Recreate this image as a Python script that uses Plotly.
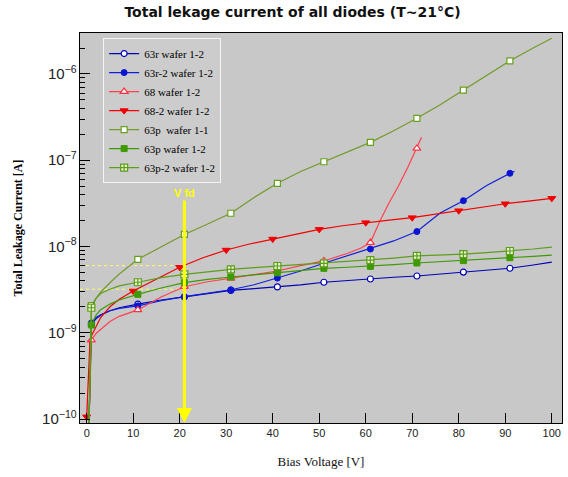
import plotly.graph_objects as go

# ---------------- data ----------------
V_63R = [0.5, 1, 2, 3, 5, 7, 11, 16, 21, 26, 31, 36, 41, 46, 51, 56, 61, 66, 71, 76, 81, 86, 91, 96, 100]
I_63R = [9e-11, 1.25e-9, 1.45e-9, 1.6e-9, 1.8e-9, 1.95e-9, 2.15e-9, 2.4e-9, 2.6e-9, 2.85e-9, 3.1e-9,
         3.25e-9, 3.4e-9, 3.6e-9, 3.85e-9, 4.05e-9, 4.2e-9, 4.4e-9, 4.55e-9, 4.8e-9, 5.05e-9, 5.35e-9,
         5.6e-9, 6.1e-9, 6.6e-9]
M_63R = [1, 11, 21, 31, 41, 51, 61, 71, 81, 91]

V_63R2 = [0.5, 1, 2, 3, 5, 7, 11, 16, 21, 26, 31, 36, 41, 46, 51, 56, 61, 66, 71, 76, 81, 86, 91, 92]
I_63R2 = [9e-11, 1.3e-9, 1.5e-9, 1.62e-9, 1.8e-9, 1.92e-9, 2.05e-9, 2.35e-9, 2.62e-9, 2.85e-9, 3.15e-9,
          3.6e-9, 4.3e-9, 5.2e-9, 6.4e-9, 7.8e-9, 9.35e-9, 1.16e-8, 1.49e-8, 2.45e-8, 3.4e-8, 5.1e-8,
          7.06e-8, 7.45e-8]
M_63R2 = [1, 11, 21, 31, 41, 51, 61, 71, 81, 91]

V_68 = [0.5, 1, 2, 3, 5, 7, 11, 16, 21, 26, 31, 36, 41, 46, 51, 56, 59, 61, 63, 65, 67, 69, 71, 72]
I_68 = [9e-11, 8.2e-10, 9.8e-10, 1.1e-9, 1.35e-9, 1.55e-9, 1.84e-9, 2.6e-9, 3.42e-9, 3.9e-9, 4.27e-9,
        4.7e-9, 5.2e-9, 6.0e-9, 6.8e-9, 8.3e-9, 9.6e-9, 1.11e-8, 1.95e-8, 3.2e-8, 5.0e-8, 8.2e-8,
        1.37e-7, 1.85e-7]
M_68 = [1, 11, 21, 31, 41, 51, 61, 71]

V_682 = [0, 0.7, 1, 2, 3, 5, 7, 10, 15, 20, 25, 30, 35, 40, 45, 50, 55, 60, 65, 70, 75, 80, 85, 90, 95, 100]
I_682 = [1.06e-10, 8.0e-10, 9.2e-10, 1.2e-9, 1.5e-9, 2.0e-9, 2.45e-9, 3.05e-9, 4.2e-9, 5.74e-9, 7.4e-9,
         9.1e-9, 1.07e-8, 1.22e-8, 1.4e-8, 1.58e-8, 1.74e-8, 1.89e-8, 2.02e-8, 2.16e-8, 2.37e-8, 2.6e-8,
         2.85e-8, 3.13e-8, 3.36e-8, 3.62e-8]
M_682 = [0, 10, 20, 30, 40, 50, 60, 70, 80, 90, 100]

V_63P11 = [0.5, 1, 2, 3, 5, 7, 11, 16, 21, 26, 31, 36, 41, 46, 51, 56, 61, 66, 71, 76, 81, 86, 91, 96, 100]
I_63P11 = [9e-11, 2.06e-9, 2.5e-9, 2.95e-9, 3.8e-9, 4.8e-9, 7.1e-9, 1.0e-8, 1.38e-8, 1.82e-8, 2.43e-8,
           3.7e-8, 5.4e-8, 7.4e-8, 9.6e-8, 1.25e-7, 1.61e-7, 2.2e-7, 3.06e-7, 4.4e-7, 6.5e-7, 9.6e-7,
           1.42e-6, 2.0e-6, 2.6e-6]
M_63P11 = [1, 11, 21, 31, 41, 51, 61, 71, 81, 91]

V_63P12 = [0.5, 1, 2, 3, 5, 7, 11, 16, 21, 26, 31, 36, 41, 46, 51, 56, 61, 66, 71, 76, 81, 86, 91, 96, 100]
I_63P12 = [9e-11, 1.23e-9, 1.6e-9, 1.85e-9, 2.15e-9, 2.4e-9, 2.79e-9, 3.3e-9, 3.81e-9, 4.15e-9, 4.43e-9,
           4.7e-9, 4.95e-9, 5.3e-9, 5.58e-9, 5.75e-9, 5.89e-9, 6.15e-9, 6.44e-9, 6.65e-9, 6.86e-9,
           7.15e-9, 7.42e-9, 7.7e-9, 7.96e-9]
M_63P12 = [1, 11, 21, 31, 41, 51, 61, 71, 81, 91]

V_63P2 = [0.5, 1, 2, 3, 5, 7, 11, 16, 21, 26, 31, 36, 41, 46, 51, 56, 61, 66, 71, 76, 81, 86, 91, 96, 100]
I_63P2 = [9e-11, 1.95e-9, 2.5e-9, 2.85e-9, 3.2e-9, 3.5e-9, 3.85e-9, 4.35e-9, 4.76e-9, 5.1e-9, 5.44e-9,
          5.7e-9, 5.94e-9, 6.15e-9, 6.38e-9, 6.65e-9, 6.96e-9, 7.35e-9, 7.77e-9, 7.95e-9, 8.18e-9,
          8.5e-9, 8.87e-9, 9.35e-9, 9.86e-9]
M_63P2 = [1, 11, 21, 31, 41, 51, 61, 71, 81, 91]

NAMES = ["63r wafer 1-2", "63r-2 wafer 1-2", "68 wafer 1-2", "68-2 wafer 1-2",
         "63p\u00a0 wafer 1-1", "63p wafer 1-2", "63p-2 wafer 1-2"]

VFD = 21
VFD_LEVELS = [6.0e-9, 3.2e-9]

X_TICKS = list(range(0, 101, 10))
X_RANGE = [-1.44, 102.2]
Y_RANGE = [-10.046, -5.525]

# ---------------- styles ----------------
series = [
    (V_63R, I_63R, M_63R, dict(color="#0000b4"), dict(symbol="circle", color="white", line=dict(color="#0000b4", width=1.2), size=6)),
    (V_63R2, I_63R2, M_63R2, dict(color="#1020d8"), dict(symbol="circle", color="#0a14d2", line=dict(color="#0a14d2", width=1), size=6)),
    (V_68, I_68, M_68, dict(color="#ff4050"), dict(symbol="triangle-up", color="white", line=dict(color="#ff3040", width=1.2), size=7)),
    (V_682, I_682, M_682, dict(color="#f00000"), dict(symbol="triangle-down", color="#f00000", line=dict(color="#f00000", width=1), size=7)),
    (V_63P11, I_63P11, M_63P11, dict(color="#749a2c"), dict(symbol="square", color="white", line=dict(color="#66a01c", width=1.2), size=6)),
    (V_63P12, I_63P12, M_63P12, dict(color="#3e9a00"), dict(symbol="square", color="#3e9a00", line=dict(color="#3e9a00", width=1), size=6)),
    (V_63P2, I_63P2, M_63P2, dict(color="#5c9e1a"), dict(symbol="square-cross", color="#e8f0d0", line=dict(color="#5c9e1a", width=1.2), size=7)),
]

fig = go.Figure()

# reference lines at Vfd
for lvl in VFD_LEVELS:
    fig.add_trace(go.Scatter(x=[X_RANGE[0], VFD], y=[lvl, lvl], mode="lines",
                             line=dict(color="#ffff60", width=1, dash="dot"),
                             showlegend=False, hoverinfo="skip"))

for (vx, iy, marks, lstyle, mstyle), name in zip(series, NAMES):
    fig.add_trace(go.Scatter(x=vx, y=iy, mode="lines", line=dict(width=1.2, **lstyle),
                             showlegend=False, legendgroup=name))
    mx = [v for v in vx if v in marks]
    my = [i for v, i in zip(vx, iy) if v in marks]
    fig.add_trace(go.Scatter(x=mx, y=my, mode="markers", marker=mstyle,
                             showlegend=False, legendgroup=name))
    # legend entry (line + marker)
    fig.add_trace(go.Scatter(x=[None], y=[None], mode="lines+markers", name=name,
                             line=dict(width=1.2, **lstyle), marker=mstyle, legendgroup=name))

# Vfd arrow
fig.add_annotation(x=VFD, y=Y_RANGE[0], xref="x", yref="y",
                   ax=VFD, ay=-7.38, axref="x", ayref="y",
                   text="<b>V fd</b>", showarrow=True, arrowhead=2, arrowsize=1,
                   arrowwidth=3, arrowcolor="#ffff00",
                   font=dict(family="Liberation Sans", size=11, color="#ffff00"))

fig.update_layout(
    width=568, height=477,
    margin=dict(l=80, r=6, t=33, b=54),
    paper_bgcolor="white",
    plot_bgcolor="#c8c8c8",
    title=dict(text="<b>Total lekage current of all diodes (T~21°C)</b>",
               x=0.515, xanchor="center", y=0.975, yanchor="middle",
               font=dict(family="DejaVu Sans", size=14, color="#111111")),
    showlegend=True,
    legend=dict(x=0.048, y=0.987, xanchor="left", yanchor="top",
                bgcolor="#cccccc", bordercolor="#f4f4f4", borderwidth=1,
                font=dict(family="Liberation Serif", size=11, color="#000000"),
                tracegroupgap=0),
    xaxis=dict(range=X_RANGE, tickmode="array", tickvals=X_TICKS,
               ticks="inside", ticklen=10, tickwidth=1, tickcolor="black",
               showline=True, linecolor="black", linewidth=1, mirror=True,
               showgrid=False, zeroline=False,
               tickfont=dict(family="Liberation Sans", size=11, color="#222222"),
               title=dict(text="Bias Voltage [V]", standoff=18,
                          font=dict(family="Liberation Serif", size=13, color="#111111"))),
    yaxis=dict(type="log", range=Y_RANGE, dtick=1, exponentformat="power",
               ticks="inside", ticklen=10, tickwidth=1, tickcolor="black",
               minor=dict(ticks="inside", ticklen=5, tickcolor="black", dtick="D1", showgrid=False),
               showline=True, linecolor="black", linewidth=1, mirror=True,
               showgrid=False, zeroline=False,
               tickfont=dict(family="Liberation Sans", size=12, color="#222222"),
               title=dict(text="<b>Total Leakage Current [A]</b>", standoff=16,
                          font=dict(family="Liberation Serif", size=12, color="#000000"))),
)

fig.write_html("out.html")
